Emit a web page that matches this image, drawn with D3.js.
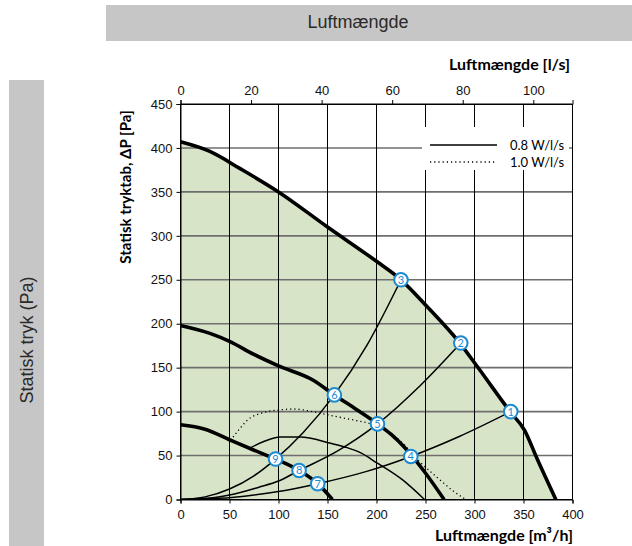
<!DOCTYPE html>
<html>
<head>
<meta charset="utf-8">
<script src="https://cdn.jsdelivr.net/npm/d3@7"></script>
<style>
  html, body { margin: 0; padding: 0; background: #fff; }
  svg { display: block; }
  .tick text { font-family: "Liberation Sans", Arial, sans-serif; font-size: 13px; fill: #111; }
  .title { font-family: Lato, "Open Sans", sans-serif; font-weight: bold; font-size: 16px; fill: #000; }
  .header { font-family: "Liberation Sans", Arial, sans-serif; font-size: 18px; fill: #2a2a2a; }
</style>
</head>
<body>
<div id="root"></div>
<script>
// data: [m3/h, Pa]
var outerCurve  = [[0,407],[30,396],[60,377],[100,350],[150,310],[200,271],[225,250],[252,219],[285,178],[303,151],[337,99],[351,79],[364,46],[383,0]];
var middleCurve = [[0,198],[30,189],[50,180],[75,165],[100,152],[135,136],[157,119],[180,102],[201,86],[215,74],[228,60],[248,33],[269,0]];
var innerCurve  = [[0,85],[25,80],[50,68],[71,58],[97,46],[121,33],[140,18],[155,0]];
var humpCurve   = [[70,58],[85,66],[102,71],[122,71],[153,64],[170,59],[184,53],[200,42],[227,22],[249,0]];
var dottedCurve = [[51,67],[60,80],[68,90],[85,99],[102,102],[115,103],[143,98],[165,93],[183,89],[195,86],[210,78],[225,66],[244,43],[261,26],[278,10],[291,0]];

// system curves through the numbered points
var systemA = [[0,0],[25,1],[50,2],[75,5],[100,9],[140,18],[190,32],[235,49],[285,72],[337,100]];
var systemB = [[0,0],[25,1],[50,5],[80,14],[100,21],[121,33],[160,55],[201,86],[245,130],[286,178]];
var systemC = [[0,0],[25,3],[50,12],[75,27],[97,46],[125,76],[157,119],[190,175],[225,250]];

var points = [
  {n:1, q:337, p:100}, {n:2, q:286, p:178}, {n:3, q:225, p:250},
  {n:4, q:235, p:49},  {n:5, q:201, p:86},  {n:6, q:157, p:119},
  {n:7, q:140, p:18},  {n:8, q:121, p:33},  {n:9, q:97,  p:46}
];

var xTicks  = [0,50,100,150,200,250,300,350,400];
var yTicks  = [0,50,100,150,200,250,300,350,400,450];
var lsTicks = [0,20,40,60,80,100];
var legendItems = [{label:"0.8 W/l/s", dash:null}, {label:"1.0 W/l/s", dash:"1.2,3"}];

var width = 632, height = 546;
var svg = d3.select('#root').append('svg')
            .attr('width', width)
            .attr('height', height);

// **********************************
// Header boxes
// **********************************
svg.append('rect').attr('x',106).attr('y',5).attr('width',526).attr('height',36).attr('fill','#c6c6c6');
svg.append('text').attr('class','header')
   .attr('x',358).attr('y',28)
   .attr('text-anchor','middle')
   .text('Luftmængde');

svg.append('rect').attr('x',9).attr('y',80).attr('width',35).attr('height',466).attr('fill','#c6c6c6');
svg.append('text').attr('class','header')
   .attr('transform','translate(33,340) rotate(-90)')
   .attr('text-anchor','middle')
   .text('Statisk tryk (Pa)');

// **********************************
// Scales
// **********************************
var x = d3.scaleLinear().domain([0,400]).range([180.5,572.5]);
var y = d3.scaleLinear().domain([0,450]).range([499.5,104]);
var xLs = d3.scaleLinear().domain([0,400/3.6]).range([180.5,572.5]);

var plot = svg.append('g').attr('class','plot');

plot.append('defs').append('clipPath').attr('id','clip')
    .append('rect')
    .attr('x',x(0)).attr('y',y(450))
    .attr('width',x(400)-x(0)).attr('height',y(0)-y(450));

// green operating area
var area = d3.area()
             .x(function(d){ return x(d[0]); })
             .y0(y(0))
             .y1(function(d){ return y(d[1]); })
             .curve(d3.curveMonotoneX);

plot.append('path')
    .datum(outerCurve)
    .attr('d', area)
    .attr('fill','#d8e4c8');

// grid
plot.selectAll('.hgrid')
    .data(yTicks)
    .enter().append('line')
    .attr('class','hgrid')
    .attr('x1',x(0)).attr('x2',x(400))
    .attr('y1',function(d){ return y(d); })
    .attr('y2',function(d){ return y(d); })
    .attr('stroke',function(d){ return (d==0||d==450) ? '#000' : '#6e6e6e'; })
    .attr('stroke-width',function(d){ return (d==0||d==450) ? 1 : 1.6; });

plot.selectAll('.vgrid')
    .data(xTicks)
    .enter().append('line')
    .attr('class','vgrid')
    .attr('x1',function(d){ return x(d); })
    .attr('x2',function(d){ return x(d); })
    .attr('y1',y(0)).attr('y2',y(450))
    .attr('stroke','#000')
    .attr('stroke-width',1);

// legend box sits over the grid
var legend = plot.append('g').attr('class','legend');
legend.append('rect')
      .attr('x',422).attr('y',127).attr('width',147).attr('height',43)
      .attr('fill','#fff');
var li = legend.selectAll('.item')
      .data(legendItems)
      .enter().append('g')
      .attr('class','item')
      .attr('transform',function(d,i){ return 'translate(0,' + (145 + i*17) + ')'; });
li.append('line')
  .attr('x1',430).attr('x2',497)
  .attr('stroke','#000')
  .attr('stroke-width',function(d){ return d.dash ? 1.3 : 1.6; })
  .attr('stroke-dasharray',function(d){ return d.dash; });
li.append('text')
  .attr('x',510).attr('dy','0.35em')
  .style('font-family','Lato, sans-serif').style('font-size','13px')
  .text(function(d){ return d.label; });

// curves
var line = d3.line()
             .x(function(d){ return x(d[0]); })
             .y(function(d){ return y(d[1]); })
             .curve(d3.curveMonotoneX);

var curves = plot.append('g').attr('clip-path','url(#clip)');

var lines = [
  {data: systemA, w: 1.5},
  {data: systemB, w: 1.5},
  {data: systemC, w: 1.5},
  {data: humpCurve, w: 1.5},
  {data: dottedCurve, w: 1.3, dash: '1.2,3'},
  {data: innerCurve, w: 3.6},
  {data: middleCurve, w: 3.6},
  {data: outerCurve, w: 3.6}
];

curves.selectAll('.curve')
      .data(lines)
      .enter().append('path')
      .attr('class','curve')
      .attr('d', function(d){ return line(d.data); })
      .attr('fill','none')
      .attr('stroke','#000')
      .attr('stroke-width',function(d){ return d.w; })
      .attr('stroke-dasharray',function(d){ return d.dash || null; });

// numbered markers
var mk = plot.selectAll('.marker')
             .data(points)
             .enter().append('g')
             .attr('class','marker')
             .attr('transform',function(d){ return 'translate(' + x(d.q) + ',' + y(d.p) + ')'; });
mk.append('circle')
  .attr('r',6.8)
  .attr('fill','#fff')
  .attr('stroke','#1c8ad2')
  .attr('stroke-width',2);
mk.append('text')
  .attr('text-anchor','middle')
  .attr('dy','0.36em')
  .style('font-family','Lato, sans-serif').style('font-size','11px')
  .style('fill','#1c8ad2')
  .text(function(d){ return d.n; });

// **********************************
// Axes
// **********************************
var yAxis = d3.axisLeft(y).tickValues(yTicks).tickSize(4).tickPadding(4);
var gy = svg.append('g').attr('transform','translate(' + x(0) + ',0)').call(yAxis);

var xAxis = d3.axisBottom(x).tickValues(xTicks).tickSize(4).tickPadding(6);
var gx = svg.append('g').attr('transform','translate(0,' + y(0) + ')').call(xAxis);

var topAxis = d3.axisTop(xLs).tickValues(lsTicks).tickSize(4).tickPadding(5);
var gt = svg.append('g').attr('transform','translate(0,' + y(450) + ')').call(topAxis);

[gx, gy, gt].forEach(function(g){
  g.select('.domain').attr('stroke','#000');
  g.selectAll('.tick line').attr('stroke','#000');
  g.selectAll('.tick text').attr('font-family',null).attr('font-size',null);
});

svg.append('text').attr('class','title')
   .attr('x',573).attr('y',541).attr('text-anchor','end')
   .text('Luftmængde [m³/h]');

svg.append('text').attr('class','title')
   .attr('x',570).attr('y',70).attr('text-anchor','end')
   .text('Luftmængde [l/s]');

svg.append('text').attr('class','title')
   .attr('transform','translate(131,187) rotate(-90)')
   .attr('text-anchor','middle')
   .style('font-size','15px')
   .text('Statisk tryktab, ΔP [Pa]');
</script>
</body>
</html>
